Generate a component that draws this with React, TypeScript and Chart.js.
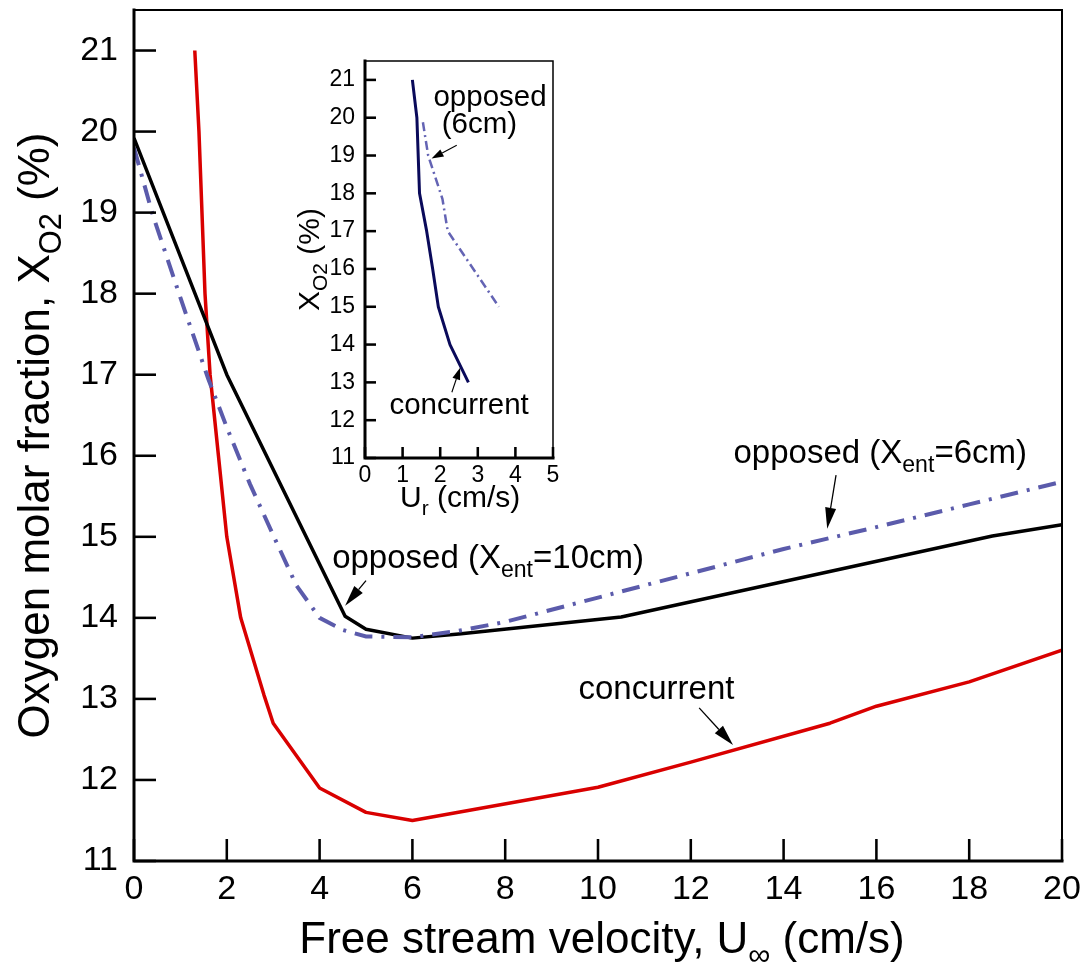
import React, { useEffect, useRef } from "react";
import { Chart, registerables } from "chart.js";

Chart.register(...registerables);

const FONT = '"Liberation Sans", Arial, Helvetica, sans-serif';

// ---------- main chart data ----------
const xTicks = [0, 2, 4, 6, 8, 10, 12, 14, 16, 18, 20];
const yTicks = [11, 12, 13, 14, 15, 16, 17, 18, 19, 20, 21];

const concurrentX = [1.31, 1.4, 1.53, 1.64, 1.82, 2.0, 2.3, 2.8, 3.0, 4.0, 5.0, 6.0, 10.0, 12.0, 15.0, 16.0, 18.0, 20.0];
const concurrentY = [21.0, 20.0, 18.0, 17.0, 16.0, 15.0, 14.0, 13.05, 12.7, 11.9, 11.6, 11.5, 11.91, 12.22, 12.7, 12.91, 13.21, 13.6];

const opposed10X = [0, 2, 4.55, 5, 6, 7, 10.5, 18.5, 20];
const opposed10Y = [19.92, 17.0, 14.02, 13.86, 13.75, 13.8, 14.01, 15.01, 15.15];

const opposed6X = [0, 0.4, 1, 1.6, 2, 2.5, 3, 3.5, 4, 4.5, 5, 6, 7, 8, 10, 12, 14, 16, 18, 20];
const opposed6Y = [19.8, 18.98, 17.95, 16.95, 16.35, 15.65, 15.02, 14.4, 14.0, 13.85, 13.77, 13.76, 13.84, 13.95, 14.25, 14.55, 14.85, 15.12, 15.4, 15.68];

// ---------- inset data ----------
const insetXTicks = [0, 1, 2, 3, 4, 5];
const insetYTicks = [11, 12, 13, 14, 15, 16, 17, 18, 19, 20, 21];

const insetConcX = [1.26, 1.38, 1.45, 1.64, 1.8, 1.95, 2.26, 2.75];
const insetConcY = [21, 20, 18, 17, 16, 15, 14, 13];

const insetOppX = [1.54, 1.68, 2.06, 2.2, 2.88, 3.56];
const insetOppY = [19.88, 19.0, 17.85, 17.0, 16.0, 15.0];

type Part = { t: string; sub?: boolean };

const pts = (xs: number[], ys: number[]) => xs.map((x, i) => ({ x, y: ys[i] }));

function richWidth(ctx: CanvasRenderingContext2D, parts: Part[], size: number) {
  let w = 0;
  for (const p of parts) {
    ctx.font = `${p.sub ? size * 0.7 : size}px ${FONT}`;
    w += ctx.measureText(p.t).width;
  }
  return w;
}

function drawRich(ctx: CanvasRenderingContext2D, parts: Part[], x: number, y: number, size: number) {
  let cx = x;
  ctx.textAlign = "left";
  ctx.textBaseline = "alphabetic";
  for (const p of parts) {
    ctx.font = `${p.sub ? size * 0.7 : size}px ${FONT}`;
    ctx.fillText(p.t, cx, y + (p.sub ? size * 0.27 : 0));
    cx += ctx.measureText(p.t).width;
  }
}

function drawArrow(ctx: CanvasRenderingContext2D, x1: number, y1: number, x2: number, y2: number, len: number, hw: number, lw: number) {
  const a = Math.atan2(y2 - y1, x2 - x1);
  const bx = x2 - len * Math.cos(a);
  const by = y2 - len * Math.sin(a);
  ctx.beginPath();
  ctx.moveTo(x1, y1);
  ctx.lineTo(bx, by);
  ctx.lineWidth = lw;
  ctx.stroke();
  ctx.beginPath();
  ctx.moveTo(x2, y2);
  ctx.lineTo(bx + hw * Math.sin(a), by - hw * Math.cos(a));
  ctx.lineTo(bx - hw * Math.sin(a), by + hw * Math.cos(a));
  ctx.closePath();
  ctx.fill();
}

function frameAndTicks(chart: any, tickLen: number, thick: number, thin: number) {
  const { ctx, chartArea: a, scales } = chart;
  const x = scales.x;
  const y = scales.y;
  ctx.save();
  ctx.strokeStyle = "#000";
  ctx.lineCap = "butt";
  ctx.lineWidth = thin;
  ctx.beginPath();
  ctx.moveTo(a.left, a.top);
  ctx.lineTo(a.right, a.top);
  ctx.lineTo(a.right, a.bottom);
  ctx.stroke();
  ctx.lineWidth = thick;
  ctx.lineCap = "square";
  ctx.beginPath();
  ctx.moveTo(a.left, a.top);
  ctx.lineTo(a.left, a.bottom);
  ctx.lineTo(a.right, a.bottom);
  ctx.stroke();
  ctx.lineCap = "butt";
  ctx.lineWidth = thick * 0.85;
  for (const t of x.ticks) {
    const px = x.getPixelForValue(t.value);
    ctx.beginPath();
    ctx.moveTo(px, a.bottom);
    ctx.lineTo(px, a.bottom - tickLen);
    ctx.stroke();
  }
  for (const t of y.ticks) {
    const py = y.getPixelForValue(t.value);
    ctx.beginPath();
    ctx.moveTo(a.left, py);
    ctx.lineTo(a.left + tickLen, py);
    ctx.stroke();
  }
  ctx.restore();
}

const mainDecor = {
  id: "mainDecor",
  afterDraw(chart: any) {
    frameAndTicks(chart, 22, 3, 2);
    const { ctx, scales, chartArea: a } = chart;
    const X = (v: number) => scales.x.getPixelForValue(v);
    const Y = (v: number) => scales.y.getPixelForValue(v);
    ctx.save();
    ctx.fillStyle = "#000";
    ctx.strokeStyle = "#000";

    // x title
    const xt: Part[] = [{ t: "Free stream velocity, U" }, { t: "\u221E", sub: true }, { t: " (cm/s)" }];
    const xs = 44;
    const xw = richWidth(ctx, xt, xs);
    drawRich(ctx, xt, (a.left + a.right) / 2 - xw / 2 + 4, 953, xs);

    // y title
    const yt: Part[] = [{ t: "Oxygen molar fraction, X" }, { t: "O2", sub: true }, { t: " (%)" }];
    const ys = 44;
    const yw = richWidth(ctx, yt, ys);
    ctx.save();
    ctx.translate(49, (a.top + a.bottom) / 2);
    ctx.rotate(-Math.PI / 2);
    drawRich(ctx, yt, -yw / 2, 0, ys);
    ctx.restore();

    // annotations
    const as = 33;
    drawRich(ctx, [{ t: "opposed (X" }, { t: "ent", sub: true }, { t: "=10cm)" }], X(4.27), Y(14.61), as);
    drawArrow(ctx, X(5.0), Y(14.46), X(4.55), Y(14.15), 21, 5.5, 1.3);

    drawRich(ctx, [{ t: "opposed (X" }, { t: "ent", sub: true }, { t: "=6cm)" }], X(12.92), Y(15.91), as);
    drawArrow(ctx, X(15.13), Y(15.76), X(14.94), Y(15.1), 21, 5.5, 1.3);

    drawRich(ctx, [{ t: "concurrent" }], X(9.58), Y(13.0), as);
    drawArrow(ctx, X(12.18), Y(12.89), X(12.91), Y(12.43), 21, 5.5, 1.3);
    ctx.restore();
  },
};

const insetDecor = {
  id: "insetDecor",
  beforeDraw(chart: any) {
    const { ctx, chartArea: a } = chart;
    ctx.save();
    ctx.fillStyle = "#fff";
    ctx.fillRect(a.left, a.top, a.right - a.left, a.bottom - a.top);
    ctx.restore();
  },
  afterDraw(chart: any) {
    frameAndTicks(chart, 11, 3, 1.5);
    const { ctx, scales, chartArea: a } = chart;
    const X = (v: number) => scales.x.getPixelForValue(v);
    const Y = (v: number) => scales.y.getPixelForValue(v);
    ctx.save();
    ctx.fillStyle = "#000";
    ctx.strokeStyle = "#000";
    const ts = 30;
    const xt: Part[] = [{ t: "U" }, { t: "r", sub: true }, { t: " (cm/s)" }];
    drawRich(ctx, xt, 400 - 280, 507 - 40, ts);

    const yt: Part[] = [{ t: "X" }, { t: "O2", sub: true }, { t: " (%)" }];
    const yw = richWidth(ctx, yt, ts);
    ctx.save();
    ctx.translate(319 - 280, (a.top + a.bottom) / 2);
    ctx.rotate(-Math.PI / 2);
    drawRich(ctx, yt, -yw / 2, 0, ts);
    ctx.restore();

    const as = 29.5;
    drawRich(ctx, [{ t: "opposed" }], X(1.82), Y(20.3), as);
    drawRich(ctx, [{ t: "(6cm)" }], X(2.04), Y(19.59), as);
    drawArrow(ctx, X(2.44), Y(19.27), X(1.77), Y(18.92), 12, 4, 1.1);

    drawRich(ctx, [{ t: "concurrent" }], X(0.65), Y(12.17), as);
    drawArrow(ctx, X(2.31), Y(12.74), X(2.53), Y(13.39), 12, 4, 1.1);
    ctx.restore();
  },
};

function makeScales(xt: number[], yt: number[], xmax: number, xW: number, yH: number, fs: number, padX: number, padY: number) {
  return {
    x: {
      type: "linear",
      min: 0,
      max: xmax,
      grid: { display: false, drawTicks: false },
      border: { display: false },
      afterBuildTicks: (s: any) => {
        s.ticks = xt.map((v) => ({ value: v }));
      },
      afterFit: (s: any) => {
        s.height = yH;
        s.paddingLeft = 0;
        s.paddingRight = 0;
        s.paddingTop = 0;
        s.paddingBottom = 0;
      },
      ticks: {
        font: { family: FONT, size: fs },
        color: "#000",
        padding: padX,
        maxRotation: 0,
        autoSkip: false,
        callback: (v: any) => String(v),
      },
    },
    y: {
      type: "linear",
      min: 11,
      max: 21.5,
      grid: { display: false, drawTicks: false },
      border: { display: false },
      afterBuildTicks: (s: any) => {
        s.ticks = yt.map((v) => ({ value: v }));
      },
      afterFit: (s: any) => {
        s.width = xW;
        s.paddingLeft = 0;
        s.paddingRight = 0;
        s.paddingTop = 0;
        s.paddingBottom = 0;
      },
      ticks: {
        font: { family: FONT, size: fs },
        color: "#000",
        padding: padY,
        autoSkip: false,
        callback: (v: any) => String(v),
      },
    },
  };
}

export default function App() {
  const mainRef = useRef<HTMLCanvasElement>(null);
  const insetRef = useRef<HTMLCanvasElement>(null);

  useEffect(() => {
    const main = new Chart(mainRef.current as HTMLCanvasElement, {
      type: "line",
      data: {
        datasets: [
          {
            data: pts(opposed6X, opposed6Y),
            borderColor: "#5b5bab",
            borderWidth: 4,
            borderDash: [18, 9, 3, 9],
            pointRadius: 0,
            tension: 0,
          },
          {
            data: pts(opposed10X, opposed10Y),
            borderColor: "#000000",
            borderWidth: 3.5,
            pointRadius: 0,
            tension: 0,
            borderJoinStyle: "round",
          },
          {
            data: pts(concurrentX, concurrentY),
            borderColor: "#d90000",
            borderWidth: 3.5,
            pointRadius: 0,
            tension: 0,
            borderJoinStyle: "round",
          },
        ],
      } as any,
      options: {
        animation: false,
        responsive: false,
        maintainAspectRatio: false,
        events: [],
        layout: { padding: { top: 10, right: 20, left: 0, bottom: 0 } },
        plugins: { legend: { display: false }, tooltip: { enabled: false } },
        scales: makeScales(xTicks, yTicks, 20, 134, 102, 34, 8, 16) as any,
      },
      plugins: [mainDecor],
    });

    const inset = new Chart(insetRef.current as HTMLCanvasElement, {
      type: "line",
      data: {
        datasets: [
          {
            data: pts(insetOppX, insetOppY),
            borderColor: "#6464b4",
            borderWidth: 2.5,
            borderDash: [9, 4, 2, 4],
            pointRadius: 0,
            tension: 0,
          },
          {
            data: pts(insetConcX, insetConcY),
            borderColor: "#0a0a5a",
            borderWidth: 3,
            pointRadius: 0,
            tension: 0,
            borderJoinStyle: "round",
          },
        ],
      } as any,
      options: {
        animation: false,
        responsive: false,
        maintainAspectRatio: false,
        events: [],
        layout: { padding: { top: 21, right: 27, left: 0, bottom: 0 } },
        plugins: { legend: { display: false }, tooltip: { enabled: false } },
        scales: makeScales(insetXTicks, insetYTicks, 5, 85, 62, 23, 4, 10) as any,
      },
      plugins: [insetDecor],
    });

    return () => {
      main.destroy();
      inset.destroy();
    };
  }, []);

  return (
    <div style={{ position: "absolute", left: 0, top: 0, width: 1082, height: 963, background: "#fff" }}>
      <canvas ref={mainRef} width={1082} height={963} style={{ position: "absolute", left: 0, top: 0, width: 1082, height: 963 }} />
      <canvas ref={insetRef} width={300} height={480} style={{ position: "absolute", left: 280, top: 40, width: 300, height: 480 }} />
    </div>
  );
}
